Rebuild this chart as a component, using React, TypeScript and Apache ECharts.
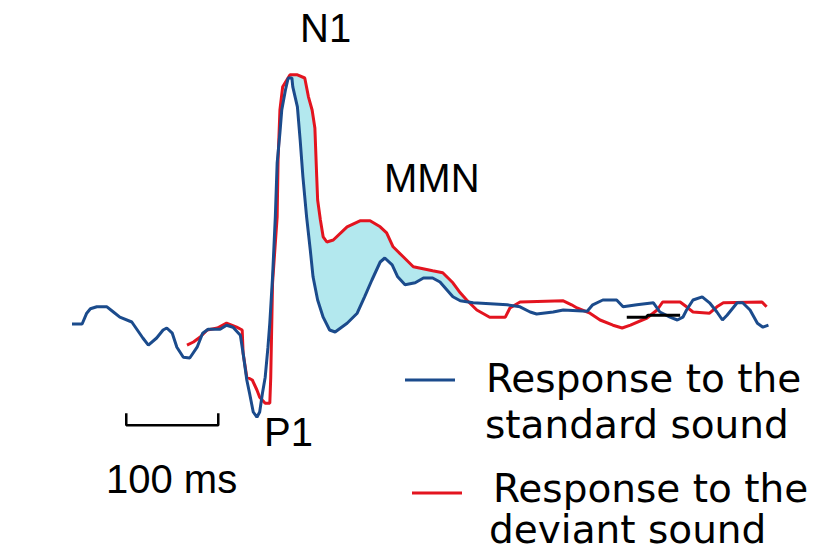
import React, { useEffect, useRef } from "react";
import * as echarts from "echarts";

// Time (ms) and amplitude (µV, arbitrary) of the standard-sound response
const standardTime = [0, 11, 16, 20, 27, 38, 45, 52, 65, 71, 77, 83, 92, 99, 103, 109, 114, 121, 128, 136, 142, 148, 161, 168, 175, 183, 186, 190, 193, 197, 201, 204, 207, 210, 213, 215, 218, 221, 223, 226, 228, 232, 235, 239, 240, 245, 248, 251, 255, 259, 262, 267, 273, 280, 286, 299, 310, 318, 326, 335, 340, 348, 354, 362, 373, 382, 392, 400, 414, 422, 436, 473, 487, 498, 505, 523, 534, 560, 566, 577, 592, 599, 614, 632, 639, 650, 658, 664, 668, 675, 685, 693, 701, 707, 712, 723, 729, 737, 745, 751, 757];
const standardAmp = [-0.35, -0.35, -0.08, 0.03, 0.08, 0.08, -0.05, -0.18, -0.3, -0.5, -0.7, -0.88, -0.7, -0.5, -0.45, -0.58, -0.93, -1.18, -1.2, -0.93, -0.58, -0.48, -0.48, -0.38, -0.43, -0.63, -1.08, -1.75, -2.08, -2.55, -2.68, -2.55, -2.08, -1.68, -0.93, -0.33, 0.83, 2.33, 3.68, 4.43, 5.0, 5.5, 5.8, 5.8, 5.58, 5.08, 4.25, 3.33, 2.33, 1.5, 0.83, 0.25, -0.18, -0.5, -0.55, -0.33, -0.08, 0.33, 0.75, 1.2, 1.3, 1.13, 0.83, 0.63, 0.68, 0.8, 0.8, 0.7, 0.33, 0.23, 0.18, 0.13, 0.08, -0.05, -0.1, -0.05, 0, -0.03, 0.13, 0.25, 0.25, 0.08, 0.13, 0.18, -0.05, -0.18, -0.25, -0.18, 0, 0.25, 0.33, 0.18, -0.05, -0.25, -0.13, 0.18, 0.18, 0, -0.33, -0.43, -0.38];

// Deviant-sound response (identical to the standard before ~125 ms, hidden under it)
const deviantTime = [125, 132, 139, 147, 158, 168, 179, 185, 186, 190, 196, 201, 204, 210, 215, 216, 218, 223, 224, 226, 229, 237, 245, 253, 257, 261, 264, 266, 267, 270, 273, 277, 284, 299, 313, 324, 335, 342, 349, 360, 371, 392, 403, 414, 422, 429, 440, 454, 471, 476, 487, 534, 543, 549, 563, 574, 588, 598, 607, 625, 636, 642, 661, 668, 675, 693, 701, 708, 750, 755];
const deviantAmp = [-0.88, -0.8, -0.68, -0.5, -0.45, -0.33, -0.43, -0.5, -1.08, -1.68, -1.75, -2.0, -2.18, -2.33, -2.33, -1.7, 0.68, 2.33, 3.75, 5.0, 5.58, 5.88, 5.88, 5.8, 5.33, 5.0, 4.55, 3.33, 2.75, 2.25, 1.83, 1.7, 1.75, 2.08, 2.23, 2.23, 2.08, 1.93, 1.58, 1.33, 1.08, 0.98, 0.93, 0.68, 0.43, 0.25, 0, -0.18, -0.18, 0.05, 0.2, 0.23, 0.13, 0.05, -0.08, -0.25, -0.38, -0.45, -0.38, -0.2, 0, 0.2, 0.2, 0.08, -0.05, -0.08, 0.08, 0.18, 0.2, 0.08];

// Mismatch-negativity shaded window (ms)
const mmnStart = 237;
const mmnEnd = 429;

// Small black marker trace
const markerTime = [603, 624, 626, 661];
const markerAmp = [-0.18, -0.18, -0.13, -0.13];

// 100 ms scale bar
const scaleBarTime = [59, 59, 159, 159];
const scaleBarAmp = [-2.58, -2.88, -2.88, -2.58];

const BLUE = "#1b4b8c";
const RED = "#e3141f";
const CYAN = "#b3e8ee";

const zip = (a: number[], b: number[]) => a.map((v, i) => [v, b[i]]);

export default function App() {
  const ref = useRef<HTMLDivElement>(null);
  useEffect(() => {
    if (!ref.current) return;
    const chart = echarts.init(ref.current, null, { renderer: "svg" });
    const standard = zip(standardTime, standardAmp);
    const deviant = zip(deviantTime, deviantAmp);
    const upper = deviant.filter((p) => p[0] >= mmnStart && p[0] <= mmnEnd);
    const lower = standard.filter((p) => p[0] >= mmnStart && p[0] <= mmnEnd).reverse();
    const fillPts = upper.concat(lower);

    const labelFont = { fontFamily: "Liberation Sans, Arial, sans-serif", fontSize: 40, fill: "#000" };
    const legendFont = { fontFamily: "DejaVu Sans, sans-serif", fontSize: 39, lineHeight: 40, fill: "#000" };

    chart.setOption({
      animation: false,
      backgroundColor: "#ffffff",
      grid: { left: 72, right: 46.8, top: 70, bottom: 121 },
      xAxis: { type: "value", min: 0, max: 760, show: false },
      yAxis: { type: "value", min: -3, max: 6, show: false },
      series: [
        {
          type: "custom",
          name: "MMN",
          silent: true,
          data: [[0, 0]],
          z: 1,
          renderItem: (_params: any, api: any) => ({
            type: "polygon",
            shape: { points: fillPts.map((p) => api.coord(p)) },
            style: { fill: CYAN, stroke: "none" },
          }),
        },
        {
          type: "line",
          name: "Response to the deviant sound",
          data: deviant,
          showSymbol: false,
          lineStyle: { color: RED, width: 3 },
          z: 2,
        },
        {
          type: "line",
          name: "Response to the standard sound",
          data: standard,
          showSymbol: false,
          lineStyle: { color: BLUE, width: 3 },
          z: 3,
        },
        {
          type: "line",
          name: "marker",
          data: zip(markerTime, markerAmp),
          showSymbol: false,
          lineStyle: { color: "#000", width: 3 },
          z: 4,
        },
        {
          type: "line",
          name: "100 ms",
          data: zip(scaleBarTime, scaleBarAmp),
          showSymbol: false,
          lineStyle: { color: "#000", width: 2.5 },
          z: 4,
        },
      ],
      graphic: [
        { type: "text", x: 300, y: 28, style: { ...labelFont, text: "N1", verticalAlign: "middle" } },
        { type: "text", x: 384, y: 178, style: { ...labelFont, text: "MMN", verticalAlign: "middle" } },
        { type: "text", x: 264, y: 432, style: { ...labelFont, text: "P1", verticalAlign: "middle" } },
        { type: "text", x: 106, y: 479, style: { ...labelFont, text: "100 ms", verticalAlign: "middle" } },
        { type: "line", shape: { x1: 405, y1: 380, x2: 455, y2: 380 }, style: { stroke: BLUE, lineWidth: 3 } },
        { type: "text", x: 486, y: 378, style: { ...legendFont, text: "Response to the", verticalAlign: "middle" } },
        { type: "text", x: 485, y: 424, style: { ...legendFont, text: "standard sound", verticalAlign: "middle" } },
        { type: "line", shape: { x1: 412, y1: 493, x2: 462, y2: 493 }, style: { stroke: RED, lineWidth: 3 } },
        { type: "text", x: 493, y: 488, style: { ...legendFont, text: "Response to the", verticalAlign: "middle" } },
        { type: "text", x: 489, y: 529, style: { ...legendFont, text: "deviant sound", verticalAlign: "middle" } },
      ],
    });
    return () => chart.dispose();
  }, []);
  return (
    <div
      ref={ref}
      style={{ position: "fixed", left: 0, top: 0, width: 818, height: 551, background: "#fff" }}
    />
  );
}
